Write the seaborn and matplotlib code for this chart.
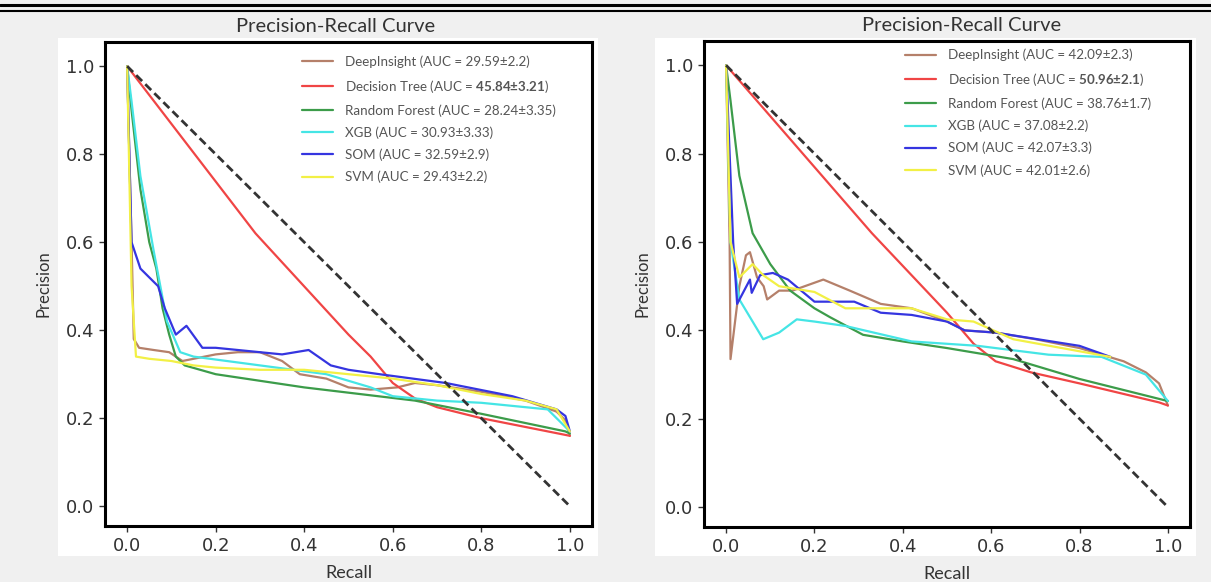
import matplotlib
matplotlib.use("Agg")
import matplotlib.pyplot as plt
from matplotlib.lines import Line2D
from matplotlib.patches import Rectangle
import pandas as pd
import seaborn as sns

# --- Datos ---
MODELS = ["DeepInsight", "Decision Tree", "Random Forest", "XGB", "SOM", "SVM"]
COLORS = ["#b5806a", "#f04545", "#3c9c4a", "#45e5e5", "#3535e0", "#f2f045"]

# Panel izquierdo
L_AUC = ["29.59±2.2", "45.84±3.21", "28.24±3.35", "30.93±3.33", "32.59±2.9", "29.43±2.2"]
L_DI_R = [0.0, 0.01, 0.015, 0.027, 0.06, 0.095, 0.125, 0.15, 0.2, 0.25, 0.3, 0.35, 0.39, 0.45, 0.5, 0.55, 0.61, 0.65, 0.7, 0.8, 0.9, 0.97, 0.99, 1.0]
L_DI_P = [1.0, 0.6, 0.38, 0.36, 0.355, 0.35, 0.33, 0.335, 0.345, 0.35, 0.35, 0.33, 0.30, 0.29, 0.27, 0.265, 0.27, 0.28, 0.275, 0.26, 0.24, 0.215, 0.195, 0.16]
L_DT_R = [0.0, 0.29, 0.5, 0.55, 0.6, 0.65, 0.7, 0.8, 0.9, 1.0]
L_DT_P = [1.0, 0.62, 0.39, 0.34, 0.28, 0.245, 0.225, 0.2, 0.18, 0.16]
L_RF_R = [0.0, 0.01, 0.03, 0.05, 0.066, 0.08, 0.095, 0.11, 0.13, 0.2, 0.4, 0.65, 0.8, 0.99, 1.0]
L_RF_P = [1.0, 0.9, 0.72, 0.6, 0.54, 0.45, 0.39, 0.34, 0.32, 0.30, 0.27, 0.24, 0.21, 0.17, 0.165]
L_XGB_R = [0.0, 0.01, 0.03, 0.06, 0.09, 0.12, 0.15, 0.3, 0.45, 0.55, 0.6, 0.7, 0.8, 0.95, 1.0]
L_XGB_P = [1.0, 0.92, 0.75, 0.58, 0.42, 0.35, 0.34, 0.32, 0.30, 0.27, 0.25, 0.24, 0.235, 0.22, 0.17]
L_SOM_R = [0.0, 0.01, 0.03, 0.05, 0.07, 0.085, 0.11, 0.134, 0.17, 0.2, 0.25, 0.3, 0.35, 0.41, 0.46, 0.5, 0.57, 0.72, 0.87, 0.97, 0.99, 1.0]
L_SOM_P = [1.0, 0.6, 0.54, 0.52, 0.5, 0.45, 0.39, 0.41, 0.36, 0.36, 0.355, 0.35, 0.345, 0.355, 0.32, 0.31, 0.30, 0.28, 0.25, 0.22, 0.205, 0.17]
L_SVM_R = [0.0, 0.01, 0.02, 0.05, 0.1, 0.15, 0.2, 0.3, 0.4, 0.5, 0.6, 0.7, 0.8, 0.9, 0.97, 1.0]
L_SVM_P = [1.0, 0.5, 0.34, 0.335, 0.33, 0.32, 0.315, 0.31, 0.31, 0.30, 0.29, 0.275, 0.255, 0.24, 0.22, 0.17]

# Panel derecho
R_AUC = ["42.09±2.3", "50.96±2.1", "38.76±1.7", "37.08±2.2", "42.07±3.3", "42.01±2.6"]
R_DI_R = [0.0, 0.008, 0.01, 0.03, 0.045, 0.054, 0.07, 0.085, 0.093, 0.12, 0.15, 0.22, 0.28, 0.35, 0.42, 0.5, 0.54, 0.61, 0.7, 0.8, 0.9, 0.95, 0.98, 1.0]
R_DI_P = [1.0, 0.6, 0.335, 0.5, 0.57, 0.577, 0.52, 0.5, 0.47, 0.49, 0.49, 0.515, 0.49, 0.46, 0.45, 0.42, 0.40, 0.395, 0.38, 0.36, 0.33, 0.305, 0.28, 0.23]
R_DT_R = [0.0, 0.33, 0.5, 0.56, 0.61, 0.69, 0.8, 0.98, 1.0]
R_DT_P = [1.0, 0.62, 0.44, 0.37, 0.33, 0.305, 0.28, 0.237, 0.23]
R_RF_R = [0.0, 0.01, 0.03, 0.06, 0.1, 0.145, 0.2, 0.235, 0.31, 0.4, 0.5, 0.65, 0.8, 0.98, 1.0]
R_RF_P = [1.0, 0.92, 0.75, 0.62, 0.55, 0.49, 0.45, 0.43, 0.39, 0.375, 0.36, 0.335, 0.29, 0.245, 0.24]
R_XGB_R = [0.0, 0.01, 0.03, 0.06, 0.084, 0.12, 0.16, 0.2, 0.27, 0.42, 0.57, 0.65, 0.73, 0.85, 0.95, 1.0]
R_XGB_P = [1.0, 0.6, 0.47, 0.42, 0.38, 0.395, 0.425, 0.42, 0.41, 0.375, 0.365, 0.355, 0.345, 0.34, 0.30, 0.24]
R_SOM_R = [0.0, 0.016, 0.025, 0.054, 0.058, 0.077, 0.106, 0.14, 0.2, 0.235, 0.29, 0.35, 0.42, 0.5, 0.54, 0.61, 0.8, 0.87]
R_SOM_P = [1.0, 0.6, 0.46, 0.515, 0.485, 0.525, 0.53, 0.515, 0.465, 0.465, 0.465, 0.44, 0.435, 0.42, 0.40, 0.395, 0.365, 0.34]
R_SVM_R = [0.0, 0.01, 0.03, 0.06, 0.084, 0.12, 0.2, 0.27, 0.42, 0.5, 0.56, 0.65, 0.87]
R_SVM_P = [1.0, 0.6, 0.52, 0.55, 0.525, 0.50, 0.487, 0.45, 0.45, 0.425, 0.42, 0.38, 0.34]

LEFT = [(L_DI_R, L_DI_P), (L_DT_R, L_DT_P), (L_RF_R, L_RF_P), (L_XGB_R, L_XGB_P), (L_SOM_R, L_SOM_P), (L_SVM_R, L_SVM_P)]
RIGHT = [(R_DI_R, R_DI_P), (R_DT_R, R_DT_P), (R_RF_R, R_RF_P), (R_XGB_R, R_XGB_P), (R_SOM_R, R_SOM_P), (R_SVM_R, R_SVM_P)]

NARROW = ["Lato", "DejaVu Sans"]


def make_label(name, auc, bold):
    if bold:
        val = auc.replace("±", r"{\pm}")
        return f"{name} (AUC = $\\mathbf{{{val}}}$)"
    return f"{name} (AUC = {auc})"


def draw_panel(ax, curves, aucs, title_x, legend_anchor):
    for i, (name, (rec, prec)) in enumerate(zip(MODELS, curves)):
        df = pd.DataFrame({"recall": rec, "precision": prec})
        sns.lineplot(data=df, x="recall", y="precision", ax=ax, color=COLORS[i],
                     linewidth=1.6, sort=False, estimator=None,
                     label=make_label(name, aucs[i], name == "Decision Tree"))
    ax.plot([0, 1], [1, 0], linestyle="--", color="#333333", linewidth=2.0, dashes=(3, 1.6))
    ax.set_xlim(-0.05, 1.05)
    ax.set_ylim(-0.045, 1.055)
    ax.set_xticks([0.0, 0.2, 0.4, 0.6, 0.8, 1.0])
    ax.set_yticks([0.0, 0.2, 0.4, 0.6, 0.8, 1.0])
    ax.tick_params(labelsize=13, colors="#333333", length=4.5, width=1, pad=3.5)
    for s in ax.spines.values():
        s.set_color("black")
        s.set_linewidth(2.2)
    ax.set_title("Precision-Recall Curve", fontsize=14.5, family=NARROW, color="#333333",
                 pad=7, x=title_x)
    ax.set_xlabel("Recall", fontsize=13, family=NARROW, color="#333333", labelpad=7)
    ax.set_ylabel("Precision", fontsize=12, family=NARROW, color="#333333", labelpad=10)
    leg = ax.legend(loc="upper left", bbox_to_anchor=legend_anchor, frameon=False,
                    handlelength=2.3, handletextpad=0.9, labelspacing=0.72,
                    borderpad=0, borderaxespad=0, prop={"family": NARROW, "size": 9.6})
    for t in leg.get_texts():
        t.set_color("#555555")


sns.set_theme(style="ticks")
plt.rcParams["font.family"] = ["DejaVu Sans"]
plt.rcParams["mathtext.fontset"] = "custom"
plt.rcParams["mathtext.rm"] = "Lato"
plt.rcParams["mathtext.bf"] = "Lato:bold"

W, H = 1211, 582
fig = plt.figure(figsize=(W / 100, H / 100), dpi=100, facecolor="#f0f0f0")

# fondos blancos de cada panel (detras de los ejes)
fig.add_artist(Rectangle((58 / W, 1 - 556 / H), 540 / W, 518 / H, transform=fig.transFigure,
                         facecolor="white", edgecolor="none", zorder=-5))
fig.add_artist(Rectangle((655 / W, 1 - 556 / H), 541 / W, 518 / H, transform=fig.transFigure,
                         facecolor="white", edgecolor="none", zorder=-5))
# doble linea superior
fig.add_artist(Line2D([0, 1], [1 - 5 / H, 1 - 5 / H], transform=fig.transFigure, color="black", linewidth=2.2))
fig.add_artist(Line2D([0, 1], [1 - 11 / H, 1 - 11 / H], transform=fig.transFigure, color="black", linewidth=1.5))

ax1 = fig.add_axes([105 / W, 1 - 526 / H, 487 / W, 484 / H])
ax2 = fig.add_axes([704 / W, 1 - 527 / H, 486 / W, 486 / H])
for ax in (ax1, ax2):
    ax.set_zorder(2)

draw_panel(ax1, LEFT, L_AUC, 0.474, (0.405, 0.972))
draw_panel(ax2, RIGHT, R_AUC, 0.529, (0.414, 0.984))

fig.savefig("out.png", dpi=100, facecolor=fig.get_facecolor())
